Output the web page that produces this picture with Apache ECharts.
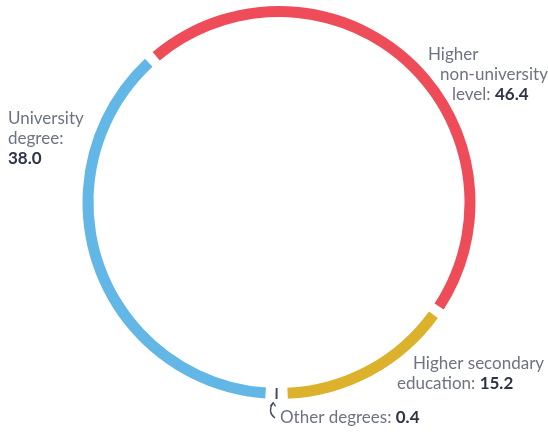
<!DOCTYPE html>
<html>
<head>
<meta charset="utf-8">
<script src="https://cdn.jsdelivr.net/npm/echarts@6/dist/echarts.min.js"></script>
<style>
  html, body { margin: 0; padding: 0; background: #ffffff; }
  #chart { width: 548px; height: 432px; }
</style>
</head>
<body>
<div id="chart"></div>
<script>
// Share of graduates by level of education (%)
const categories = [
  'Higher non-university level',
  'Higher secondary education',
  'Other degrees',
  'University degree'
];
const values = [46.4, 15.2, 0.4, 38.0];

// Wrapped label text for each category; the value is appended to the last line
const labelLines = [
  ['Higher', 'non-university', 'level: '],
  ['Higher secondary', 'education: '],
  ['Other degrees: '],
  ['University', 'degree:', '']
];

const colors = ['#EF4C59', '#DCB22C', '#434B5C', '#63B7E6'];

// Label block anchors (top-left) and per-line indents, following the ring's curve
const labelPlacement = [
  { x: 428, y: 45, indents: [0, 12, 24] },
  { x: 397, y: 354, indents: [16, 0] },
  { x: 280, y: 408, indents: [0] },
  { x: 8, y: 109, indents: [0, 0, 0] }
];

const FONT = 'Lato, "Noto Sans", sans-serif';
const TEXT_GREY = '#6E7382';
const VALUE_DARK = '#2D3446';

function buildLabel(i) {
  const lines = labelLines[i];
  const place = labelPlacement[i];
  const rich = {
    v: { fontFamily: FONT, fontSize: 17, fontWeight: 'bold', color: VALUE_DARK, lineHeight: 20 }
  };
  const parts = lines.map(function (txt, k) {
    const key = 'l' + k;
    rich[key] = {
      fontFamily: FONT, fontSize: 17, color: TEXT_GREY, lineHeight: 20,
      padding: [0, 0, 0, place.indents[k] || 0]
    };
    let s = txt ? '{' + key + '|' + txt + '}' : '';
    if (k === lines.length - 1) s += '{v|' + values[i].toFixed(1) + '}';
    return s;
  });
  return { text: parts.join('\n'), rich: rich };
}

const seriesData = categories.map(function (name, i) {
  const lab = buildLabel(i);
  return {
    name: name,
    value: values[i],
    itemStyle: { color: colors[i] },
    label: { formatter: lab.text, rich: lab.rich }
  };
});

const chart = echarts.init(document.getElementById('chart'), null, { renderer: 'canvas' });
chart.setOption({
  animation: false,
  backgroundColor: '#ffffff',
  series: [{
    type: 'pie',
    center: [279, 202.5],
    radius: [185.5, 196.5],
    startAngle: 131.5,
    clockwise: true,
    padAngle: 3,
    minAngle: 0.6,
    avoidLabelOverlap: false,
    silent: true,
    label: {
      show: true,
      position: 'outside',
      fontFamily: FONT
    },
    labelLine: { show: false },
    labelLayout: function (params) {
      const p = labelPlacement[params.dataIndex];
      return { x: p.x, y: p.y, align: 'left', verticalAlign: 'top' };
    },
    data: seriesData
  }],
  graphic: [
    {
      // small pointer from the "Other degrees" label up to its thin slice
      type: 'bezierCurve',
      silent: true,
      shape: { x1: 275, y1: 418, cpx1: 267, cpy1: 412, x2: 273, y2: 403 },
      style: { stroke: '#434B5C', lineWidth: 1.3, fill: null }
    },
    {
      type: 'polyline',
      silent: true,
      shape: { points: [[270.3, 406.2], [273.2, 402.6], [275.6, 406.4]] },
      style: { stroke: '#434B5C', lineWidth: 1.3, fill: null }
    }
  ]
});
</script>
</body>
</html>
